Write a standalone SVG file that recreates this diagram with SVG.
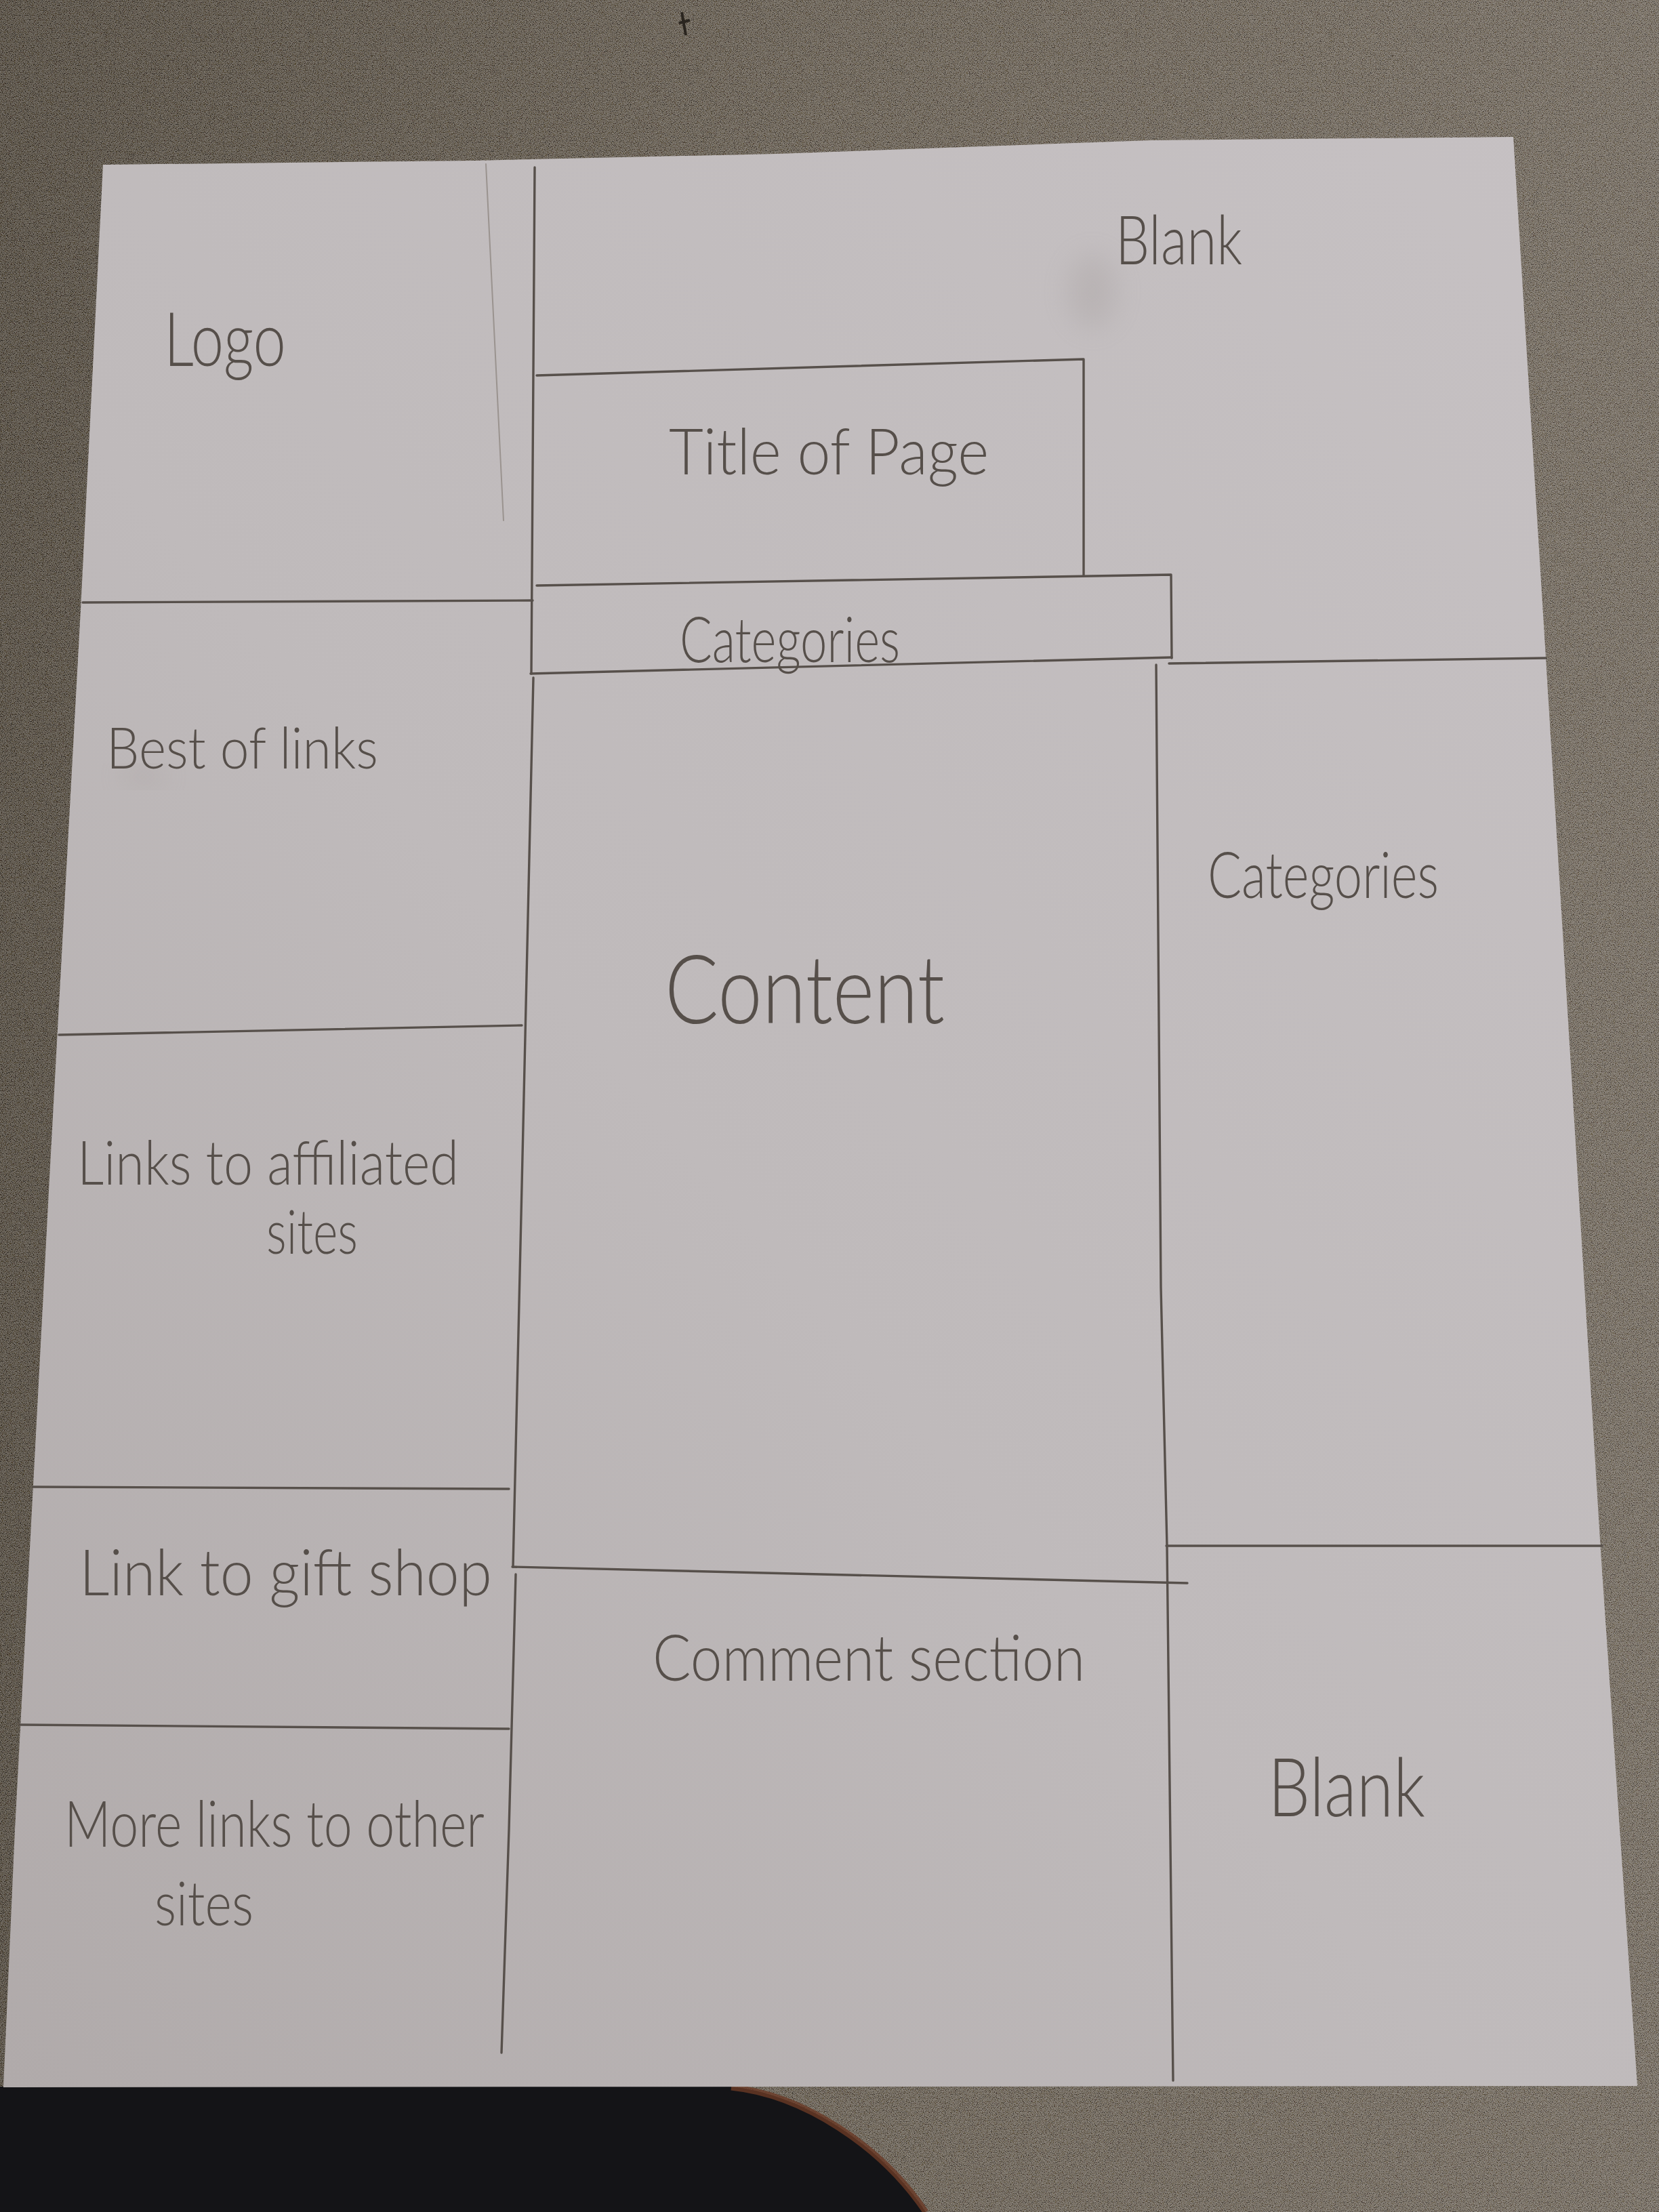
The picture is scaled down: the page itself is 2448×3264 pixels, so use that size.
<svg xmlns="http://www.w3.org/2000/svg" width="2448" height="3264" viewBox="0 0 2448 3264">
  <defs>
    <linearGradient id="carpetShade" x1="0" y1="0" x2="1" y2="0">
      <stop offset="0" stop-color="#433c33"/>
      <stop offset="0.5" stop-color="#5f574d"/>
      <stop offset="1" stop-color="#6f675e"/>
    </linearGradient>
    <linearGradient id="paperShade" x1="1" y1="0" x2="0" y2="1">
      <stop offset="0" stop-color="#c6c1c3"/>
      <stop offset="0.55" stop-color="#bfbabb"/>
      <stop offset="1" stop-color="#b0aaaa"/>
    </linearGradient>
    <filter id="grain" x="0" y="0" width="100%" height="100%">
      <feTurbulence type="fractalNoise" baseFrequency="0.85" numOctaves="2" seed="7"/>
      <feColorMatrix type="matrix" values="2 0 0 0 -0.64  2 0 0 0 -0.67  2 0 0 0 -0.72  0 0 0 0 0.34"/>
    </filter>
    <filter id="smudge" x="-50%" y="-50%" width="200%" height="200%">
      <feGaussianBlur stdDeviation="20"/>
    </filter>
    <style>
      .pencil { fill: none; stroke: #57504b; stroke-width: 3.4; stroke-linecap: round; stroke-linejoin: round; }
      .faint { fill: none; stroke: #9a938f; stroke-width: 2; stroke-linecap: round; }
      .hand { font-family: Lato, "Liberation Sans", sans-serif; font-weight: 300; fill: #564f4a; }
    </style>
  </defs>

  <!-- carpet background -->
  <rect x="0" y="0" width="2448" height="3264" fill="url(#carpetShade)"/>
  <rect x="0" y="0" width="2448" height="3264" filter="url(#grain)"/>
  <path d="M1006,18 L1012,52 M1002,34 L1018,30" stroke="#2a251f" stroke-width="4" fill="none"/>

  <!-- dark object at the bottom edge -->
  <path d="M0,3079 L1079,3079 C1185,3090 1300,3165 1366,3264 L0,3264 Z" fill="#141417"/>
  <path d="M1079,3080 C1185,3091 1300,3166 1366,3264" fill="none" stroke="#6a3a25" stroke-width="9" opacity="0.8"/>

  <!-- sheet of paper -->
  <path d="M152,243 L700,237 L1146,227 L1614,210 L1700,207 L2233,202 L2281,971 L2362,2289 L2416,3078 L5,3080 L22,2700 L74,1720 L119,900 Z" fill="url(#paperShade)"/>
  <ellipse cx="1612" cy="430" rx="36" ry="55" fill="#8a8280" opacity="0.18" filter="url(#smudge)"/>
  <ellipse cx="212" cy="1146" rx="34" ry="10" fill="#958d8a" opacity="0.3" filter="url(#smudge)"/>

  <!-- pencil layout lines -->
  <g id="connectors">
    <path class="faint" d="M717,242 L743,768"/>
    <path class="pencil" d="M789,247 L784,994"/>
    <path class="pencil" d="M787,1000 L770,1750 L757,2312"/>
    <path class="pencil" d="M761,2323 L751,2700 L740,3029"/>
    <path class="pencil" d="M122,889 L786,886"/>
    <path class="pencil" d="M87,1527 L770,1513"/>
    <path class="pencil" d="M49,2194 L751,2197"/>
    <path class="pencil" d="M30,2545 L751,2551"/>
    <path class="pencil" d="M792,554 L1599,530 L1599,849"/>
    <path class="pencil" d="M792,864 L1728,848 L1729,971"/>
    <path class="pencil" d="M783,994 L1729,970"/>
    <path class="pencil" d="M1725,979 L2281,971"/>
    <path class="pencil" d="M1706,981 L1713,1900 L1722,2281 L1731,3070"/>
    <path class="pencil" d="M1721,2281 L2364,2281"/>
    <path class="pencil" d="M756,2312 L1752,2336"/>
  </g>

  <!-- labelled regions -->
  <g id="logo">
    <text class="hand" x="242" y="540" font-size="110" textLength="180" lengthAdjust="spacingAndGlyphs">Logo</text>
  </g>
  <g id="blank-top">
    <text class="hand" x="1646" y="390" font-size="100" textLength="187" lengthAdjust="spacingAndGlyphs">Blank</text>
  </g>
  <g id="title">
    <text class="hand" x="987" y="700" font-size="95" textLength="472" lengthAdjust="spacingAndGlyphs">Title of Page</text>
  </g>
  <g id="categories-bar">
    <text class="hand" x="1003" y="977" font-size="92" textLength="325" lengthAdjust="spacingAndGlyphs">Categories</text>
  </g>
  <g id="best-of-links">
    <text class="hand" x="157" y="1134" font-size="85" textLength="401" lengthAdjust="spacingAndGlyphs">Best of links</text>
  </g>
  <g id="affiliated-links">
    <text class="hand" x="114" y="1748" font-size="90" textLength="563" lengthAdjust="spacingAndGlyphs">Links to affiliated</text>
    <text class="hand" x="393" y="1850" font-size="90" textLength="135" lengthAdjust="spacingAndGlyphs">sites</text>
  </g>
  <g id="gift-shop">
    <text class="hand" x="117" y="2354" font-size="95" textLength="609" lengthAdjust="spacingAndGlyphs">Link to gift shop</text>
  </g>
  <g id="other-links">
    <text class="hand" x="95" y="2725" font-size="95" textLength="620" lengthAdjust="spacingAndGlyphs">More links to other</text>
    <text class="hand" x="228" y="2841" font-size="90" textLength="146" lengthAdjust="spacingAndGlyphs">sites</text>
  </g>
  <g id="content">
    <text class="hand" x="981" y="1510" font-size="140" textLength="413" lengthAdjust="spacingAndGlyphs">Content</text>
  </g>
  <g id="categories-side">
    <text class="hand" x="1782" y="1325" font-size="95" textLength="341" lengthAdjust="spacingAndGlyphs">Categories</text>
  </g>
  <g id="comments">
    <text class="hand" x="963" y="2480" font-size="95" textLength="638" lengthAdjust="spacingAndGlyphs">Comment section</text>
  </g>
  <g id="blank-bottom">
    <text class="hand" x="1871" y="2680" font-size="120" textLength="232" lengthAdjust="spacingAndGlyphs">Blank</text>
  </g>
</svg>
